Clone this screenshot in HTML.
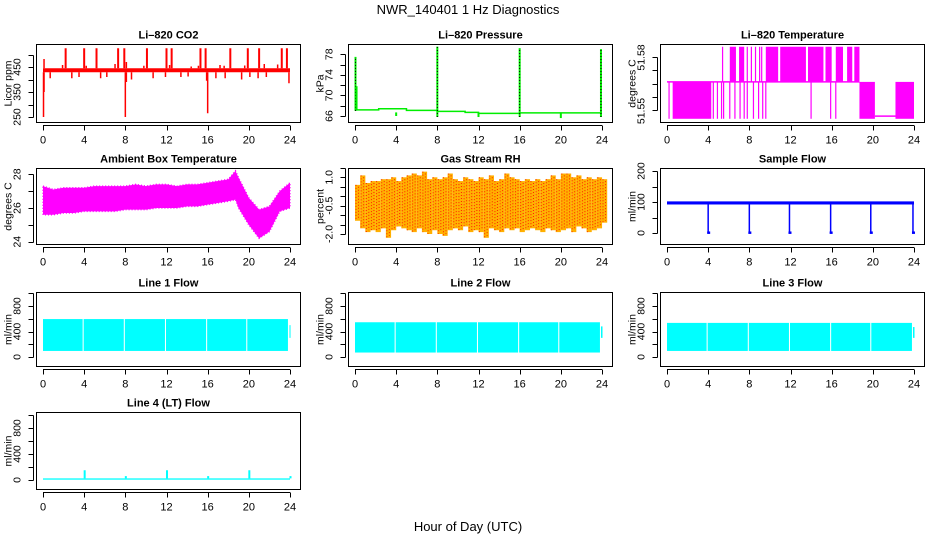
<!DOCTYPE html>
<html><head><meta charset="utf-8"><style>
html,body{margin:0;padding:0;background:#fff}
svg{display:block;font-family:"Liberation Sans",Arial,sans-serif}
</style></head><body>
<svg id="c" width="936" height="540" viewBox="0 0 936 540" xmlns="http://www.w3.org/2000/svg">
<text x="468" y="14" text-anchor="middle" font-size="13">NWR_140401  1 Hz Diagnostics</text>
<text x="468" y="531" text-anchor="middle" font-size="13">Hour of Day (UTC)</text>
</svg>
<script>
// ---- data ----
const hourTicks=[0,4,8,12,16,20,24];
const co2UpHours=[2.2,4.0,5.2,7.3,7.9,10.1,12.0,12.5,15.3,15.8,18.2,19.9,21.0,23.2,23.7];
const co2UpVals=[525,525,525,525,525,525,525,525,525,525,525,525,525,525,525];
const co2MidHours=[0.1,1.9,4.2,7.0,8.1,9.8,12.3,14.4,15.1,17.2,17.6,19.6,21.5,22.8];
const co2MidVals=[482,458,455,462,470,455,458,452,455,458,455,456,462,460];
const co2DownHours=[0.05,0.1,8.0,8.1,16.0,15.9,0.7,2.8,3.5,5.6,6.2,8.6,10.7,11.9,13.4,14.1,16.8,17.7,19.3,20.1,20.9,21.7,23.9];
const co2DownVals=[250,350,250,390,265,395,405,405,410,405,410,400,405,410,410,412,405,405,400,410,405,410,385];
const co2Band=[429,445];
const pressStepHours=[0,2.3,5.0,8.0,10.7,12.0,16.0,24];
const pressStepVals=[67.2,67.4,67.1,66.9,66.7,66.5,66.6];
const pressSpikeHours=[0.05,8.0,16.0,23.9];
const pressSpikeTops=[77.5,79.5,79.2,79.0];
const pressSpikeBots=[67.0,65.8,65.8,65.8];
const pressDipHours=[4.0,12.0,20.0];
const pressDipVals=[66.0,65.8,65.6];
const tempLevels=[51.545,51.566,51.586];
const tempDenseLowMid=[[0.55,4.3],[18.7,20.2],[22.2,24.0]];
const tempDenseMidHigh=[[6.1,6.7],[7.0,7.5],[9.6,10.8],[11.0,13.5],[13.7,15.2],[15.4,16.0],[16.4,17.1],[17.5,18.0],[18.2,18.7]];
const tempSparseLow=[0.2,4.5,4.9,5.3,5.5,6.1,6.6,7.1,7.5,7.8,8.4,8.9,9.3,9.6,14.0,15.9,16.4];
const tempSparseHigh=[5.4,7.8,8.2,8.6,9.0,9.2];
const ambHours=[0,1,2,3,4,5,6,7,8,9,10,11,12,13,14,15,16,17,18,18.7,19,20,21,22,23,24];
const ambUpper=[27.3,27.1,27.2,27.2,27.2,27.3,27.3,27.3,27.3,27.4,27.3,27.4,27.4,27.3,27.4,27.4,27.5,27.6,27.7,28.2,27.8,26.6,25.9,26.1,27.0,27.5];
const ambLower=[25.6,25.6,25.7,25.7,25.8,25.8,25.8,25.8,25.9,25.9,25.9,26.0,26.0,26.0,26.1,26.1,26.2,26.3,26.4,26.5,26.0,25.0,24.2,24.6,25.8,26.0];
const rhUpper=[0.6,1.1,0.7,0.8,0.8,0.9,0.9,1.0,0.8,1.0,1.1,1.2,1.1,1.3,0.9,1.0,0.9,1.0,1.2,0.9,0.8,1.0,0.9,0.8,1.0,0.9,1.1,0.8,0.9,1.2,1.0,0.9,0.8,0.9,0.8,0.9,0.8,0.9,1.1,0.9,1.2,1.2,1.0,1.1,0.9,1.0,0.9,1.0,0.9];
const rhLower=[-1.3,-1.7,-1.9,-1.8,-1.9,-1.7,-2.2,-1.8,-1.6,-1.7,-1.8,-1.9,-1.7,-1.9,-2.0,-1.8,-2.0,-2.1,-1.8,-1.7,-1.8,-1.6,-1.9,-1.8,-1.9,-2.2,-1.7,-1.8,-1.9,-1.7,-1.8,-1.7,-1.9,-1.8,-1.7,-1.8,-1.9,-1.7,-1.8,-1.9,-1.8,-1.7,-1.9,-1.6,-1.7,-1.9,-1.8,-1.7,-1.4];
const sampleBand=[92,102];
const sampleDipHours=[4.0,8.0,11.9,15.9,19.8,23.9];
const sampleDipVals=[0,0,0,0,0,0];
const line1Starts=[0,3.95,7.95,11.95,15.95,19.85];
const line1Ends=[3.85,7.85,11.85,15.85,19.75,23.8];
const line1Range=[95,595];
const line2Starts=[0,3.95,7.95,11.95,15.95,19.85];
const line2Ends=[3.85,7.85,11.85,15.85,19.75,23.8];
const line2Range=[70,545];
const line3Starts=[0,3.95,7.95,11.95,15.95,19.85];
const line3Ends=[3.85,7.85,11.85,15.85,19.75,23.8];
const line3Range=[95,535];
const line4Band=[5,25];
const line4SpikeHours=[4,8,12,16,20,24];
const line4SpikeVals=[150,60,150,60,150,60];

// ---- layout ----
const svg=document.getElementById('c');
const NS='http://www.w3.org/2000/svg';
const colAxis=[33.5,345.5,657.5],colL=[36.5,348.5,660.5],colR=[300.5,612.5,924.5],colX0=[43,355,667],XW=247;
const rowT=[44.5,168.5,292.5,412.5],rowB=[122.5,244.5,366.5,489.5];
function mk(tag,attrs,parent){const e=document.createElementNS(NS,tag);for(const k in attrs)e.setAttribute(k,attrs[k]);(parent||svg).appendChild(e);return e;}

function panel(o){
  const g=mk('g',{});
  
  
  const c=o.col,r=o.row,T=rowT[r],B=rowB[r];
  const sx=h=>colX0[c]+h/24*XW;
  const sy=v=>o.p1+(v-o.v1)*(o.p2-o.p1)/(o.v2-o.v1);
  const plot=mk('g',{},g);
  
  
  o.draw(plot,sx,sy,T,B);
  const box=mk('rect',{x:colL[c],y:T,width:colR[c]-colL[c],height:B-T,fill:'none',stroke:'#000','stroke-width':1},g);
  
  
  const t=mk('text',{x:(colL[c]+colR[c])/2,y:T-6,'text-anchor':'middle','font-size':11,'font-weight':'bold'},g);
  t.textContent=o.title;
  
  
  const xa=mk('g',{},g);
  
  
  mk('line',{x1:sx(0),x2:sx(24),y1:B+3,y2:B+3,stroke:'#000'},xa);
  hourTicks.forEach(h=>{
    const x=Math.round(sx(h))+0.5;
    mk('line',{x1:x,x2:x,y1:B+3,y2:B+8,stroke:'#000'},xa);
    const l=mk('text',{x:sx(h),y:B+21,'text-anchor':'middle','font-size':11},xa);
    l.textContent=h;
    
    
  });
  const ya=mk('g',{},g);
  
  
  const ax=colAxis[c];
  const ys=o.ticks.map(v=>Math.round(sy(v))+0.5);
  mk('line',{x1:ax,x2:ax,y1:Math.min(...ys),y2:Math.max(...ys),stroke:'#000'},ya);
  ys.forEach(y=>mk('line',{x1:ax-5,x2:ax,y1:y,y2:y,stroke:'#000'},ya));
  o.labels.forEach((lb,i)=>{
    const y=o.labelPos?o.labelPos[i]:sy(o.labelVals[i]);
    const l=mk('text',{x:0,y:0,'text-anchor':'middle','font-size':10.5,transform:`translate(${ax-13},${y}) rotate(-90)`},ya);
    l.textContent=lb;
    
    
  });
  const yt=mk('text',{x:0,y:0,'text-anchor':'middle','font-size':10.5,transform:`translate(${ax-22},${(T+B)/2}) rotate(-90)`},g);
  yt.textContent=o.ylab;
  
  
}
function vline(p,x,y1,y2,col,w){return mk('line',{x1:x,x2:x,y1:y1,y2:y2,stroke:col,'stroke-width':w||1},p);}
function band(p,x1,x2,y1,y2,col){return mk('rect',{x:Math.min(x1,x2),y:Math.min(y1,y2),width:Math.abs(x2-x1),height:Math.max(1,Math.abs(y2-y1)),fill:col},p);}

panel({name:'co2-panel',col:0,row:0,title:'Li\u2013820 CO2',ylab:'Licor ppm',v1:250,p1:117,v2:450,p2:67,
 ticks:[250,300,350,400,450,500],labels:['250','350','450'],labelVals:[250,350,450],
 draw(p,sx,sy){
  const R='#ff0000';
  band(p,sx(0),sx(24),sy(co2Band[0]),sy(co2Band[1]),R);
  co2UpHours.forEach((h,i)=>{vline(p,sx(h),sy(co2Band[1]),sy(co2UpVals[i]),R,2);});
  co2MidHours.forEach((h,i)=>{vline(p,sx(h),sy(co2Band[1]),sy(co2MidVals[i]),R,1.5);});
  co2DownHours.forEach((h,i)=>{vline(p,sx(h),sy(co2Band[0]),sy(co2DownVals[i]),R,1.5);});
 }});

panel({name:'pressure-panel',col:1,row:0,title:'Li\u2013820 Pressure',ylab:'kPa',v1:66,p1:116,v2:78,p2:54.3,
 ticks:[66,68,70,72,74,76,78],labels:['66','70','74','78'],labelVals:[66,70,74,78],
 draw(p,sx,sy){
  const G='#00ee00';
  let d='';
  pressStepVals.forEach((v,i)=>{d+=(i?'L':'M')+sx(pressStepHours[i])+' '+sy(v)+'H'+sx(pressStepHours[i+1]);});
  mk('path',{d:d,fill:'none',stroke:G,'stroke-width':1.5},p);
  pressDipHours.forEach((h,i)=>vline(p,sx(h),sy(pressStepVals[0]-0.5),sy(pressDipVals[i]),G,2));
  pressSpikeHours.forEach((h,i)=>{
    vline(p,sx(h),sy(pressSpikeBots[i]),sy(pressSpikeTops[i]),G,2);
    mk('line',{x1:sx(h),x2:sx(h),y1:sy(pressSpikeBots[i]),y2:sy(pressSpikeTops[i]),stroke:'#000','stroke-width':1,'stroke-dasharray':'1 2'},p);
  });
  vline(p,sx(0.15),sy(67.2),sy(71.8),G,2);
 }});

panel({name:'li820-temperature-panel',col:2,row:0,title:'Li\u2013820 Temperature',ylab:'degrees C',v1:51.55,p1:110,v2:51.58,p2:57.3,
 ticks:[51.55,51.5575,51.565,51.5725,51.58],labels:['51.55','51.58'],labelPos:[111,57.5],
 draw(p,sx,sy){
  const M='#ff00ff';
  const [lo,mid,hi]=tempLevels;
  mk('line',{x1:sx(0),x2:sx(18.7),y1:sy(mid),y2:sy(mid),stroke:M,'stroke-width':1.5},p);
  tempDenseLowMid.forEach(s=>band(p,sx(s[0]),sx(s[1]),sy(lo),sy(mid),M));
  tempDenseMidHigh.forEach(s=>band(p,sx(s[0]),sx(s[1]),sy(mid),sy(hi),M));
  tempSparseLow.forEach(h=>vline(p,sx(h),sy(lo),sy(mid),M,1.2));
  tempSparseHigh.forEach(h=>vline(p,sx(h),sy(mid),sy(hi),M,1.2));
  mk('line',{x1:sx(20.2),x2:sx(22.2),y1:sy(lo+0.0015),y2:sy(lo+0.0015),stroke:M,'stroke-width':1.5},p);
 }});

panel({name:'ambient-temperature-panel',col:0,row:1,title:'Ambient Box Temperature',ylab:'degrees C',v1:24,p1:241.7,v2:28,p2:174.3,
 ticks:[24,25,26,27,28],labels:['24','26','28'],labelVals:[24,26,28],
 draw(p,sx,sy){
  let d='';
  ambHours.forEach((h,i)=>{d+=(i?'L':'M')+sx(h)+' '+sy(ambUpper[i]);});
  for(let i=ambHours.length-1;i>=0;i--)d+='L'+sx(ambHours[i])+' '+sy(ambLower[i]);
  mk('path',{d:d+'Z',fill:'#ff00ff',stroke:'#ff00ff','stroke-width':1.5,'stroke-dasharray':'1 2'},p);
 }});

panel({name:'gas-stream-rh-panel',col:1,row:1,title:'Gas Stream RH',ylab:'percent',v1:1.0,p1:177.3,v2:-2.0,p2:234,
 ticks:[-2.0,-1.5,-1.0,-0.5,0,0.5,1.0,1.5],labels:['-2.0','-0.5','1.0'],labelVals:[-2.0,-0.5,1.0],
 draw(p,sx,sy){
  rhUpper.forEach((v,i)=>{
    const x=sx(i*0.5);
    band(p,x,x+5.2,sy(v),sy(rhLower[i]),'#ffb000');
    const l=vline(p,x+1,sy(v),sy(rhLower[i]),'#ff2000',1);
    l.setAttribute('stroke-dasharray','1 2');
    const l2=vline(p,x+3.5,sy(v-0.1),sy(rhLower[i]+0.1),'#ff2000',1);
    l2.setAttribute('stroke-dasharray','1 2');
  });
 }});

panel({name:'sample-flow-panel',col:2,row:1,title:'Sample Flow',ylab:'ml/min',v1:0,p1:233,v2:200,p2:171,
 ticks:[0,50,100,150,200],labels:['0','100','200'],labelVals:[0,100,200],
 draw(p,sx,sy){
  const B='#0000ff';
  band(p,sx(0),sx(24),sy(sampleBand[0]),sy(sampleBand[1]),B);
  sampleDipHours.forEach((h,i)=>{vline(p,sx(h),sy(sampleBand[0]),sy(sampleDipVals[i]),B,1.5);band(p,sx(h)-1,sx(h)+2,sy(sampleDipVals[i]+5),sy(sampleDipVals[i]-3),B);});
 }});

function flowPanel(name,col,row,title,p1,p2,starts,ends,range,extra){
 panel({name:name,col:col,row:row,title:title,ylab:'ml/min',v1:0,p1:p1,v2:800,p2:p2,
  ticks:[0,200,400,600,800,1000],labels:['0','400','800'],labelVals:[0,400,800],
  draw(p,sx,sy){
   const C='#00ffff';
   starts.forEach((s,i)=>band(p,sx(s),sx(ends[i]),sy(range[0]),sy(range[1]),C));
   if(extra)extra(p,sx,sy,C);
  }});
}
flowPanel('line1-flow-panel',0,2,'Line 1 Flow',357,306,line1Starts,line1Ends,line1Range,(p,sx,sy,C)=>band(p,sx(23.95),sx(24.05),sy(300),sy(500),C));
flowPanel('line2-flow-panel',1,2,'Line 2 Flow',357,306,line2Starts,line2Ends,line2Range,(p,sx,sy,C)=>band(p,sx(23.9),sx(24.05),sy(300),sy(480),C));
flowPanel('line3-flow-panel',2,2,'Line 3 Flow',357,306,line3Starts,line3Ends,line3Range,(p,sx,sy,C)=>band(p,sx(23.9),sx(24.05),sy(300),sy(470),C));
flowPanel('line4-flow-panel',0,3,'Line 4 (LT) Flow',480,428,[0],[24],line4Band,(p,sx,sy,C)=>{
  line4SpikeHours.forEach((h,i)=>band(p,sx(h)-0.5,sx(h)+1.5,sy(line4Band[1]),sy(line4SpikeVals[i]),C));
});
</script>
</body></html>
